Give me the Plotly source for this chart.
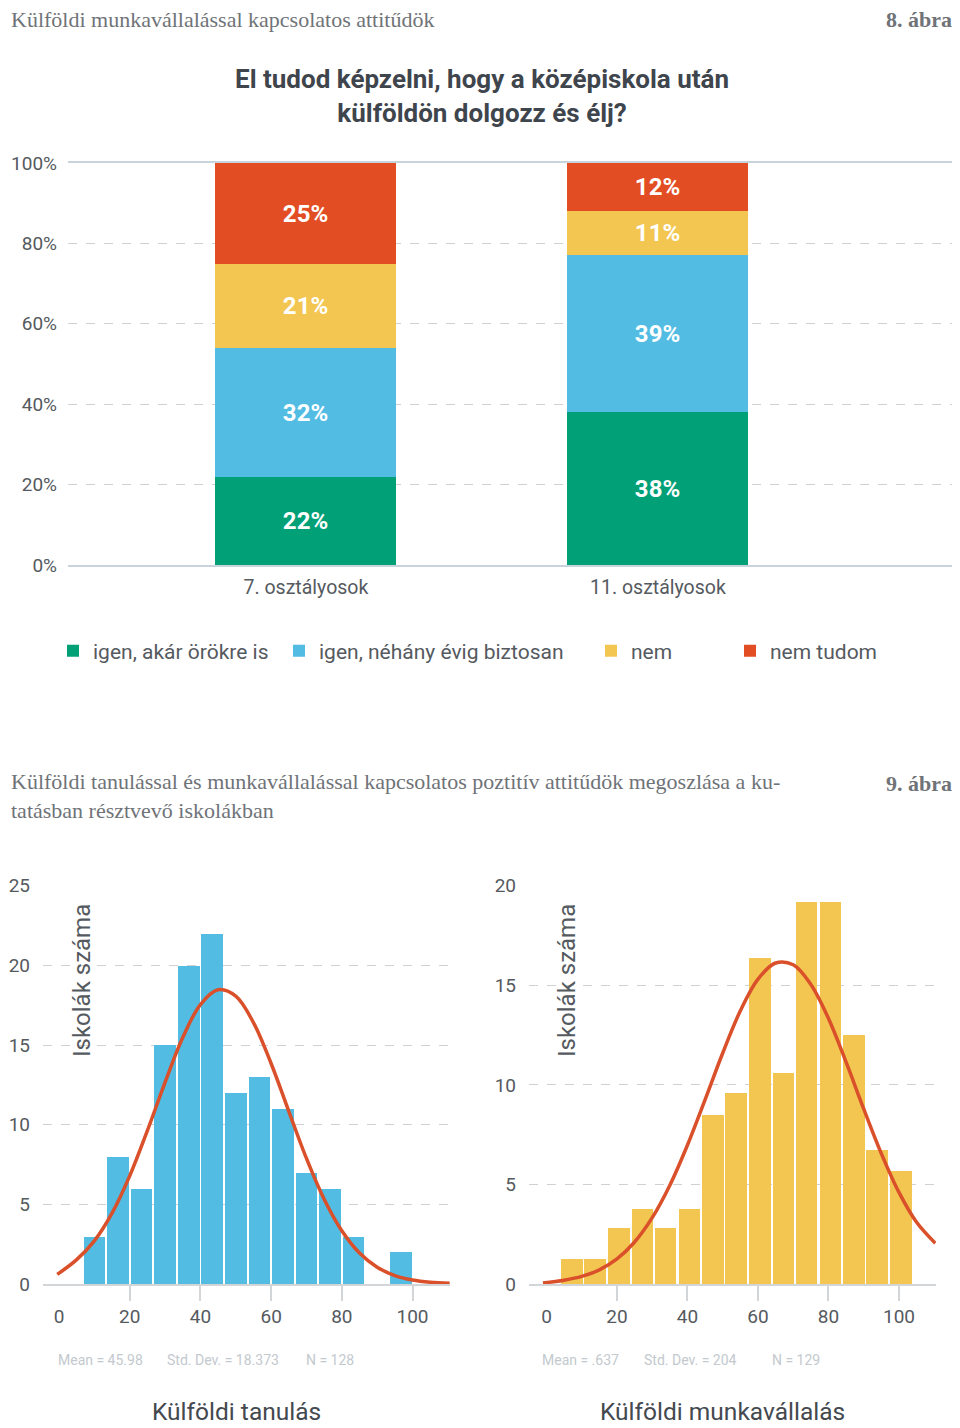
import plotly.graph_objects as go

# ---------------- data: figure 8 (stacked bars) ----------------
categories = ["7. osztályosok", "11. osztályosok"]
answer_labels = ["igen, akár örökre is", "igen, néhány évig biztosan", "nem", "nem tudom"]
igen_akar_orokre = [22, 38]
igen_nehany_evig = [32, 39]
nem_valasz = [21, 11]
nem_tudom = [25, 12]
answer_colors = ["#02a077", "#52bce3", "#f2c650", "#e34d24"]
pct_tick_vals = [0, 20, 40, 60, 80, 100]
pct_tick_text = ["0%", "20%", "40%", "60%", "80%", "100%"]

# ---------------- data: figure 9 (histograms) ----------------
tanulas_bin_centers = [10.0, 16.7, 23.3, 30.0, 36.7, 43.3, 50.0, 56.7, 63.3, 70.0, 76.7, 83.3, 90.0, 96.7]
tanulas_counts = [3, 8, 6, 15, 20, 22, 12, 13, 11, 7, 6, 3, 0, 2]
munka_bin_centers = [7.2, 13.8, 20.5, 27.2, 33.8, 40.5, 47.2, 53.8, 60.5, 67.2, 73.8, 80.5, 87.2, 93.8, 100.5]
munka_counts = [1.25, 1.25, 2.85, 3.8, 2.85, 3.8, 8.5, 9.6, 16.4, 10.6, 19.2, 19.2, 12.5, 6.75, 5.7]

# normal curves, points
tanulas_curve_x = [-0.5, 5, 10, 15, 20, 25, 30, 35, 40, 45, 50, 55, 60, 65, 70, 75, 80, 85, 90, 95, 100, 105, 110.5]
tanulas_curve_y = [0.6, 1.53, 2.71, 4.45, 6.79, 9.63, 12.66, 15.47, 17.54, 18.47, 18.07, 16.41, 13.84, 10.84,
                   7.88, 5.32, 3.34, 1.94, 1.05, 0.53, 0.25, 0.11, 0.04]
munka_curve_x = [-1, 5, 10, 15, 20, 25, 30, 35, 40, 45, 50, 55, 60, 65, 70, 75, 80, 85, 90, 95, 100, 105, 110.3]
munka_curve_y = [0.05, 0.19, 0.38, 0.71, 1.26, 2.11, 3.33, 4.96, 6.98, 9.26, 11.6, 13.72, 15.31, 16.12, 16.03,
                 15.04, 13.33, 11.14, 8.79, 6.55, 4.6, 3.1, 2.05]

hist_tick_labels = [0, 20, 40, 60, 80, 100]
hist_tick_marks = [20, 40, 60, 80, 100]
tanulas_y_ticks = [0, 5, 10, 15, 20, 25]
munka_y_ticks = [0, 5, 10, 15, 20]
tanulas_stats = ["Mean = 45.98", "Std. Dev. = 18.373", "N = 128"]
munka_stats = ["Mean = .637", "Std. Dev. = 204", "N = 129"]

# page offset of the plot div (browser body margin)
OFF = 8
W, H = 960 - OFF, 1428 - OFF
def px(x):
    return (x - OFF) / W
def py(y):
    return 1 - (y - OFF) / H

SANS = "Roboto, 'Open Sans', sans-serif"
SERIF = "'Liberation Serif', 'DejaVu Serif', serif"
GRAY = "#555a60"

fig = go.Figure()

series = [igen_akar_orokre, igen_nehany_evig, nem_valasz, nem_tudom]
legend_ids = ["legend", "legend2", "legend3", "legend4"]
for name, vals, col, lid in zip(answer_labels, series, answer_colors, legend_ids):
    fig.add_trace(go.Bar(
        x=categories, y=vals, name=name, marker=dict(color=col, line=dict(width=0)),
        width=0.514, texttemplate="%{y}%", textposition="inside", insidetextanchor="middle",
        textfont=dict(color="white", size=24, family=SANS, weight="bold"),
        legend=lid, xaxis="x", yaxis="y", cliponaxis=False,
    ))

fig.add_trace(go.Bar(
    x=tanulas_bin_centers, y=tanulas_counts, width=6.1, marker=dict(color="#52bce3", line=dict(width=0)),
    showlegend=False, xaxis="x2", yaxis="y2",
))
fig.add_trace(go.Scatter(
    x=tanulas_curve_x, y=tanulas_curve_y, mode="lines", line=dict(color="#d9502a", width=3.5, shape="spline"),
    showlegend=False, xaxis="x2", yaxis="y2",
))
fig.add_trace(go.Bar(
    x=munka_bin_centers, y=munka_counts, width=6.1, marker=dict(color="#f2c650", line=dict(width=0)),
    showlegend=False, xaxis="x3", yaxis="y3",
))
fig.add_trace(go.Scatter(
    x=munka_curve_x, y=munka_curve_y, mode="lines", line=dict(color="#d9502a", width=3.5, shape="spline"),
    showlegend=False, xaxis="x3", yaxis="y3",
))

grid = dict(showgrid=True, gridcolor="#cfd2d4", griddash="dash", gridwidth=1)
tickfont = dict(family=SANS, size=19, color=GRAY)
histx = dict(tickvals=hist_tick_labels, ticks="",
             minor=dict(tickvals=hist_tick_marks, ticks="outside", ticklen=15, tickcolor="#d3d6d8",
                        tickwidth=1.5, showgrid=False),
             showline=True, linecolor="#d3d6d8", linewidth=1.5, automargin=False,
             tickfont=tickfont, ticklabelstandoff=14, showgrid=False, zeroline=False)

fig.update_layout(
    width=W, height=H, margin=dict(l=0, r=0, t=0, b=0, autoexpand=False),
    paper_bgcolor="white", plot_bgcolor="white",
    barmode="stack", bargap=0,
    font=dict(family=SANS, color=GRAY),
    xaxis=dict(domain=[px(68), px(955)], range=[-0.676, 1.844], type="category", anchor="y",
               showline=True, mirror=True, linecolor="#c8d4dc", linewidth=1.5, automargin=False,
               ticks="", tickfont=dict(family=SANS, size=19.5, color=GRAY), ticklabelstandoff=4,
               showgrid=False, zeroline=False),
    yaxis=dict(domain=[py(565), py(163)], range=[0, 100], tickvals=pct_tick_vals, ticktext=pct_tick_text,
               anchor="x", automargin=False,
               tickfont=tickfont, ticklabelstandoff=10, zeroline=False, **grid),
    xaxis2=dict(domain=[px(43), px(450)], range=[-4.53, 110.6], anchor="y2", **histx),
    yaxis2=dict(domain=[py(1284), py(885.7)], range=[0, 25], tickvals=tanulas_y_ticks, anchor="x2",
                automargin=False, tickfont=tickfont, ticklabelstandoff=12, zeroline=False, **grid),
    xaxis3=dict(domain=[px(529), px(936)], range=[-4.96, 110.5], anchor="y3", **histx),
    yaxis3=dict(domain=[py(1284), py(885.7)], range=[0, 20], tickvals=munka_y_ticks, anchor="x3",
                automargin=False, tickfont=tickfont, ticklabelstandoff=12, zeroline=False, **grid),
)

legend_text_start = [91, 317, 629, 768]
legend_common = dict(orientation="h", yanchor="middle", xanchor="left", y=py(651),
                     bgcolor="rgba(0,0,0,0)", font=dict(family=SANS, size=21, color=GRAY),
                     itemclick=False, itemdoubleclick=False)
fig.update_layout(
    legend=dict(x=px(legend_text_start[0] - 38), **legend_common),
    legend2=dict(x=px(legend_text_start[1] - 38), **legend_common),
    legend3=dict(x=px(legend_text_start[2] - 38), **legend_common),
    legend4=dict(x=px(legend_text_start[3] - 38), **legend_common),
)

ann = []
def text(x, y, s, size, color, family=SANS, anchor="left", bold=False, angle=0):
    ann.append(dict(x=px(x), y=py(y), xref="paper", yref="paper", text=s, showarrow=False,
                    xanchor=anchor, yanchor="middle", textangle=angle, align="left",
                    font=dict(family=family, size=size, color=color, weight="bold" if bold else "normal")))

HDR = "#6f7378"
text(9, 20, "Külföldi munkavállalással kapcsolatos attitűdök", 22, HDR, SERIF)
text(954, 20, "8. ábra", 22, HDR, SERIF, anchor="right", bold=True)
text(482, 96, "El tudod képzelni, hogy a középiskola után<br>külföldön dolgozz és élj?", 26, "#3f454d", SANS,
     anchor="center", bold=True)
ann[-1]["align"] = "center"
text(9, 796, "Külföldi tanulással és munkavállalással kapcsolatos poztitív attitűdök megoszlása a ku-<br>"
     "tatásban résztvevő iskolákban", 22, HDR, SERIF)
text(954, 783, "9. ábra", 22, HDR, SERIF, anchor="right", bold=True)

text(82, 981, "Iskolák száma", 24, GRAY, SANS, anchor="center", angle=-90)
text(567, 981, "Iskolák száma", 24, GRAY, SANS, anchor="center", angle=-90)

for s, x in zip(tanulas_stats, [56, 165, 304]):
    text(x, 1360, s, 14, "#c3c9ce")
for s, x in zip(munka_stats, [540, 642, 770]):
    text(x, 1360, s, 14, "#c3c9ce")

text(236, 1411, "Külföldi tanulás", 24.5, "#44494f", SANS, anchor="center")
text(722, 1411, "Külföldi munkavállalás", 24.5, "#44494f", SANS, anchor="center")

fig.update_layout(annotations=ann)
fig.write_html("out.html")
